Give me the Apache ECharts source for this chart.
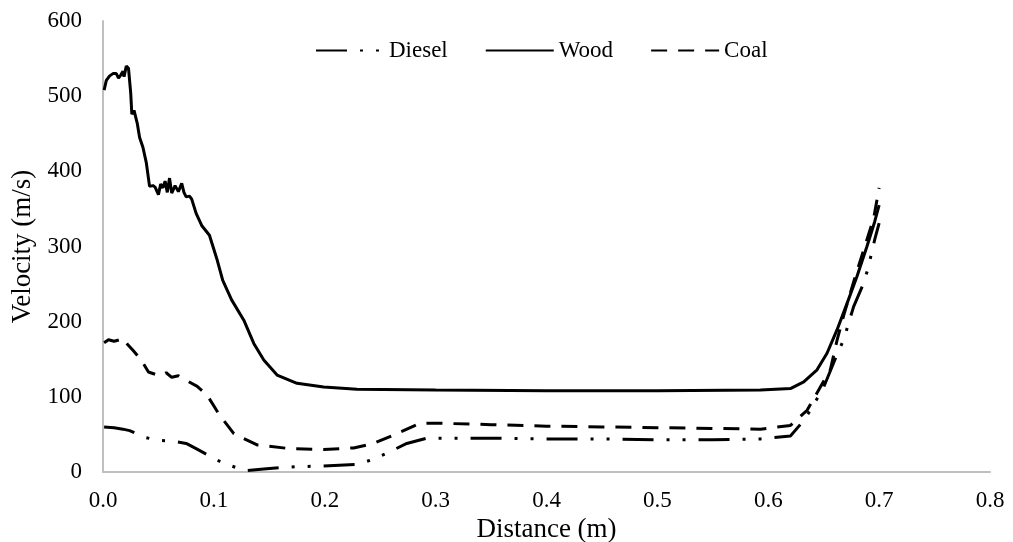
<!DOCTYPE html>
<html>

<head>
	<meta charset="UTF-8">
	<title></title>
	<style>
		html, body { margin: 0; padding: 0; background: #fff; }
		#chart { width: 1013px; height: 542px; }
	</style>
	<script src="https://cdn.jsdelivr.net/npm/echarts@6/dist/echarts.min.js"></script>
</head>

<body>
	<div id="chart"></div>
	<script>
		var seriesNames = ['Diesel', 'Wood', 'Coal'];
		var xTicks = [0, 0.1, 0.2, 0.3, 0.4, 0.5, 0.6, 0.7, 0.8];
		var yTicks = [0, 100, 200, 300, 400, 500, 600];

		var dieselX = [0.001, 0.010, 0.018, 0.024, 0.038, 0.050, 0.063, 0.075, 0.084, 0.098, 0.108, 0.122, 0.130, 0.145, 0.160, 0.175, 0.199, 0.229, 0.242, 0.256, 0.274, 0.292, 0.35, 0.40, 0.45, 0.50, 0.55, 0.593, 0.620, 0.630, 0.638, 0.650, 0.662, 0.668, 0.677, 0.686, 0.690, 0.696, 0.700];
		var dieselY = [60, 59, 57, 55, 46, 42, 41, 38, 31, 20, 12, 5, 2, 4, 6, 7, 8, 10, 16, 25, 38, 45, 45, 44, 44, 43, 43, 44, 48, 65, 82, 113, 156, 176, 220, 251, 271, 309, 331];

		var woodX = [0.001, 0.003, 0.006, 0.009, 0.012, 0.014, 0.016, 0.018, 0.019, 0.021, 0.023, 0.025, 0.026, 0.028, 0.031, 0.033, 0.036, 0.039, 0.042, 0.045, 0.047, 0.050, 0.052, 0.054, 0.056, 0.058, 0.060, 0.062, 0.065, 0.068, 0.071, 0.073, 0.075, 0.078, 0.080, 0.084, 0.089, 0.096, 0.103, 0.108, 0.116, 0.127, 0.136, 0.145, 0.157, 0.175, 0.199, 0.229, 0.30, 0.40, 0.50, 0.593, 0.620, 0.632, 0.644, 0.653, 0.662, 0.671, 0.680, 0.689, 0.696, 0.700];
		var woodY = [508, 521, 527, 530, 530, 524, 528, 533, 526, 540, 537, 504, 476, 481, 463, 445, 432, 412, 380, 381, 379, 369, 383, 378, 387, 372, 391, 371, 381, 373, 384, 372, 366, 367, 363, 344, 328, 315, 282, 255, 229, 202, 171, 149, 129, 118, 113, 110, 109, 108, 108, 109, 111, 120, 136, 158, 189, 224, 260, 300, 333, 355];

		var coalX = [0.001, 0.005, 0.010, 0.015, 0.018, 0.022, 0.027, 0.034, 0.041, 0.047, 0.052, 0.057, 0.062, 0.068, 0.075, 0.085, 0.094, 0.105, 0.118, 0.139, 0.169, 0.199, 0.226, 0.244, 0.265, 0.286, 0.30, 0.35, 0.40, 0.45, 0.50, 0.55, 0.593, 0.620, 0.635, 0.647, 0.656, 0.662, 0.668, 0.677, 0.686, 0.695, 0.700];
		var coalY = [172, 176, 174, 176, 178, 170, 162, 150, 133, 130, 128, 132, 126, 128, 122, 114, 102, 76, 51, 36, 31, 30, 32, 38, 51, 65, 65, 63, 61, 60, 59, 58, 57, 62, 82, 113, 136, 175, 208, 253, 295, 337, 378];

		function pairs(xs, ys) {
			return xs.map(function (x, i) { return [x, ys[i]]; });
		}

		var font = 'Liberation Serif';
		var myChart = echarts.init(document.getElementById('chart'));
		myChart.setOption({
			animation: false,
			textStyle: { fontFamily: font },
			grid: { left: 103, right: 23, top: 21, bottom: 70, outerBoundsMode: 'none' },
			legend: {
				data: seriesNames,
				top: 34,
				left: 310,
				itemWidth: 68,
				itemHeight: 10,
				itemGap: 37,
				// hide the circle that line legends draw in the middle
				itemStyle: { opacity: 0 },
				textStyle: { fontFamily: font, fontSize: 23, color: '#000' }
			},
			xAxis: {
				type: 'value',
				min: xTicks[0],
				max: xTicks[xTicks.length - 1],
				interval: 0.1,
				name: 'Distance (m)',
				nameLocation: 'middle',
				nameGap: 33,
				nameTextStyle: { fontFamily: font, fontSize: 27, color: '#000' },
				axisLine: { lineStyle: { color: '#bfbfbf', width: 2 } },
				axisTick: { show: false },
				splitLine: { show: false },
				axisLabel: {
					fontFamily: font, fontSize: 23, color: '#000', margin: 17,
					formatter: function (v) { return v.toFixed(1); }
				}
			},
			yAxis: {
				type: 'value',
				min: yTicks[0],
				max: yTicks[yTicks.length - 1],
				interval: 100,
				name: 'Velocity (m/s)',
				nameLocation: 'middle',
				nameGap: 66,
				nameTextStyle: { fontFamily: font, fontSize: 27, color: '#000' },
				axisLine: { show: true, lineStyle: { color: '#bfbfbf', width: 2 } },
				axisTick: { show: false },
				splitLine: { show: false },
				axisLabel: { fontFamily: font, fontSize: 23, color: '#000', margin: 21 }
			},
			series: [
				{
					name: seriesNames[0], type: 'line', symbol: 'none',
					data: pairs(dieselX, dieselY),
					lineStyle: { color: '#000', width: 3, type: [31, 13, 3, 13, 3, 13] },
					itemStyle: { color: '#000' }
				},
				{
					name: seriesNames[1], type: 'line', symbol: 'none',
					data: pairs(woodX, woodY),
					lineStyle: { color: '#000', width: 3 },
					itemStyle: { color: '#000' }
				},
				{
					name: seriesNames[2], type: 'line', symbol: 'none',
					data: pairs(coalX, coalY),
					lineStyle: { color: '#000', width: 3, type: [16, 11] },
					itemStyle: { color: '#000' }
				}
			]
		});
	</script>
</body>

</html>
